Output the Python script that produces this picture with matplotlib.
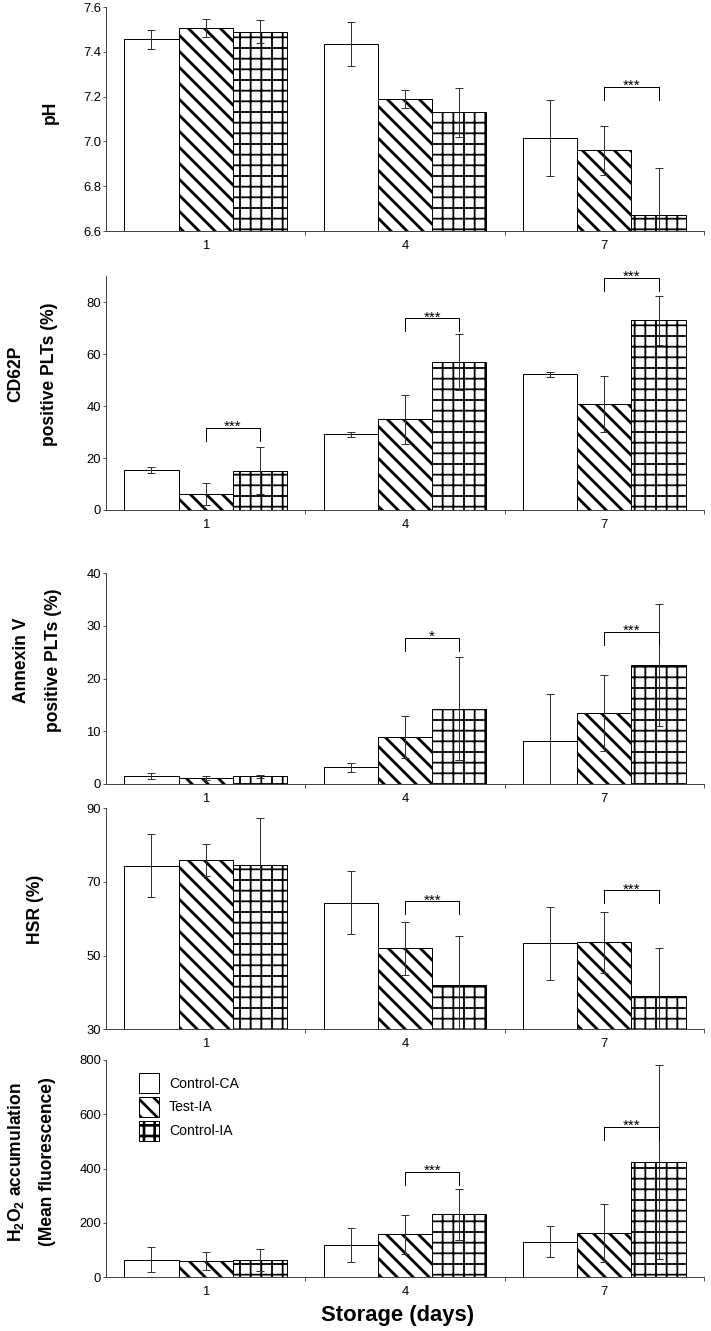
import numpy as np
import matplotlib
matplotlib.use('Agg')
import matplotlib.pyplot as plt
from matplotlib.patches import Patch

# data (mean, error), order: day 1, 4, 7
days = ['1', '4', '7']
groups = ['Control-CA', 'Test-IA', 'Control-IA']

ph_ca = [7.455, 7.435, 7.015]
ph_ca_err = [0.043, 0.10, 0.17]
ph_test = [7.505, 7.19, 6.96]
ph_test_err = [0.04, 0.04, 0.11]
ph_cia = [7.49, 7.13, 6.67]
ph_cia_err = [0.05, 0.11, 0.21]
ph_sig_day = [2]
ph_sig_y = [7.243]
ph_sig_lab = ['***']

cd_ca = [15.3, 29.1, 52.2]
cd_ca_err = [1.2, 1.1, 1.0]
cd_test = [6.2, 35.0, 40.7]
cd_test_err = [4.1, 9.4, 10.8]
cd_cia = [15.1, 56.9, 73.0]
cd_cia_err = [9.1, 10.7, 9.5]
cd_sig_day = [0, 1, 2]
cd_sig_y = [31.5, 73.8, 89.3]
cd_sig_lab = ['***', '***', '***']

an_ca = [1.5, 3.15, 8.1]
an_ca_err = [0.5, 0.9, 8.9]
an_test = [1.1, 9.0, 13.4]
an_test_err = [0.35, 4.0, 7.2]
an_cia = [1.45, 14.3, 22.6]
an_cia_err = [0.3, 9.8, 11.6]
an_sig_day = [1, 2]
an_sig_y = [27.8, 28.9]
an_sig_lab = ['*', '***']

hsr_ca = [74.4, 64.4, 53.3]
hsr_ca_err = [8.6, 8.6, 9.8]
hsr_test = [75.9, 52.0, 53.6]
hsr_test_err = [4.4, 7.2, 8.2]
hsr_cia = [74.7, 41.9, 39.0]
hsr_cia_err = [12.8, 13.3, 13.0]
hsr_sig_day = [1, 2]
hsr_sig_y = [64.7, 67.7]
hsr_sig_lab = ['***', '***']

h2_ca = [63, 119, 130]
h2_ca_err = [46, 63, 57]
h2_test = [60, 158, 163]
h2_test_err = [33, 72, 106]
h2_cia = [63, 232, 423]
h2_cia_err = [40, 94, 358]
h2_sig_day = [1, 2]
h2_sig_y = [388, 553]
h2_sig_lab = ['***', '***']

W, H, DPI = 711, 1331, 192
px = 72 / DPI  # points per pixel
L, R = 106, 704

plt.rcParams['font.family'] = ['Liberation Sans', 'DejaVu Sans']
plt.rcParams['mathtext.fontset'] = 'custom'
plt.rcParams['mathtext.rm'] = 'Liberation Sans:bold'
plt.rcParams['mathtext.it'] = 'Liberation Sans:bold'
plt.rcParams['mathtext.bf'] = 'Liberation Sans:bold'

fig = plt.figure(figsize=(W / DPI, H / DPI), dpi=DPI)

x = np.arange(len(days))
bw = 0.272
hatches = ['', '\\\\\\\\', '+++']
hatch_lw = [1.0, 2.8, 1.8]  # pixels


def add_panel(top, bot, means, errs, ylim, yticks, fmt, sig_day, sig_y, sig_lab):
    ax = fig.add_axes([L / W, 1 - bot / H, (R - L) / W, (bot - top) / H])
    for k in range(3):
        with plt.rc_context({'hatch.linewidth': hatch_lw[k] * px}):
            bars = ax.bar(x + (k - 1) * bw, means[k], bw, color='white',
                          edgecolor='black', linewidth=1 * px,
                          hatch=hatches[k], zorder=2)
        for b in bars:
            if hasattr(b, 'set_hatch_linewidth'):
                b.set_hatch_linewidth(hatch_lw[k] * px)
        ax.errorbar(x + (k - 1) * bw, means[k], yerr=errs[k], fmt='none',
                    ecolor='#333333', elinewidth=1 * px, capsize=4.3 * px,
                    capthick=1 * px, zorder=3)
    ax.set_xlim(-0.5, 2.5)
    ax.set_ylim(*ylim)
    ax.set_yticks(yticks)
    ax.set_yticklabels([fmt % t for t in yticks])
    ax.set_xticks(x)
    ax.set_xticklabels(days)
    ax.set_xticks([0.5, 1.5, 2.5], minor=True)
    ax.tick_params(axis='x', which='major', length=0, pad=9 * px, labelsize=13 * px)
    ax.tick_params(axis='x', which='minor', length=4 * px, width=1 * px, color='#555555')
    ax.tick_params(axis='y', length=3 * px, width=1 * px, pad=2 * px,
                   labelsize=13 * px, color='#555555')
    for s in ['top', 'right']:
        ax.spines[s].set_visible(False)
    for s in ['left', 'bottom']:
        ax.spines[s].set_linewidth(1 * px)
        ax.spines[s].set_color('#444444')

    # significance brackets
    upp = (ylim[1] - ylim[0]) / (bot - top)
    for d, yv, lab in zip(sig_day, sig_y, sig_lab):
        x0, x1 = d, d + bw
        ax.plot([x0, x0, x1, x1], [yv - 13 * upp, yv, yv, yv - 13 * upp],
                color='black', lw=1 * px, zorder=4)
        ax.text((x0 + x1) / 2, yv - 3 * upp, lab, ha='center', va='baseline',
                fontsize=15 * px, zorder=4)
    return ax


def ylab(lines, yc):
    for txt, xc in lines:
        fig.text(xc / W, 1 - yc / H, txt, rotation=90, ha='center', va='center',
                 fontsize=17.5 * px, fontweight='bold')


add_panel(7, 231, [ph_ca, ph_test, ph_cia], [ph_ca_err, ph_test_err, ph_cia_err],
          (6.6, 7.6), [6.6, 6.8, 7.0, 7.2, 7.4, 7.6], '%.1f',
          ph_sig_day, ph_sig_y, ph_sig_lab)
ylab([('pH', 50)], 112)

add_panel(276.3, 510, [cd_ca, cd_test, cd_cia], [cd_ca_err, cd_test_err, cd_cia_err],
          (0, 90), [0, 20, 40, 60, 80], '%d',
          cd_sig_day, cd_sig_y, cd_sig_lab)
ylab([('CD62P', 16), ('positive PLTs (%)', 49)], 374)

add_panel(573.3, 784, [an_ca, an_test, an_cia], [an_ca_err, an_test_err, an_cia_err],
          (0, 40), [0, 10, 20, 30, 40], '%d',
          an_sig_day, an_sig_y, an_sig_lab)
ylab([('Annexin V', 21), ('positive PLTs (%)', 53)], 660)

add_panel(808.3, 1029.3, [hsr_ca, hsr_test, hsr_cia], [hsr_ca_err, hsr_test_err, hsr_cia_err],
          (30, 90), [30, 50, 70, 90], '%d',
          hsr_sig_day, hsr_sig_y, hsr_sig_lab)
ylab([('HSR (%)', 35)], 909)

ax5 = add_panel(1060, 1277, [h2_ca, h2_test, h2_cia], [h2_ca_err, h2_test_err, h2_cia_err],
                (0, 800), [0, 200, 400, 600, 800], '%d',
                h2_sig_day, h2_sig_y, h2_sig_lab)
ylab([(r'H$_2$O$_2$ accumulation', 16), ('(Mean fluorescence)', 48)], 1162)

handles = []
for k in range(3):
    with plt.rc_context({'hatch.linewidth': hatch_lw[k] * px}):
        p = Patch(facecolor='white', edgecolor='black', linewidth=1 * px, hatch=hatches[k])
    if hasattr(p, 'set_hatch_linewidth'):
        p.set_hatch_linewidth(hatch_lw[k] * px)
    handles.append(p)
ax5.legend(handles, groups, loc='upper left',
           bbox_to_anchor=((139 - L) / (R - L), (1277 - 1073) / (1277 - 1060)),
           frameon=False, fontsize=14 * px, handlelength=20 / 14, handleheight=1.82,
           handletextpad=10 / 14, labelspacing=4 / 14, borderpad=0, borderaxespad=0)

fig.text(398 / W, 1 - 1321 / H, 'Storage (days)', ha='center', va='baseline',
         fontsize=22 * px, fontweight='bold')

fig.savefig('out.png', dpi=DPI)
